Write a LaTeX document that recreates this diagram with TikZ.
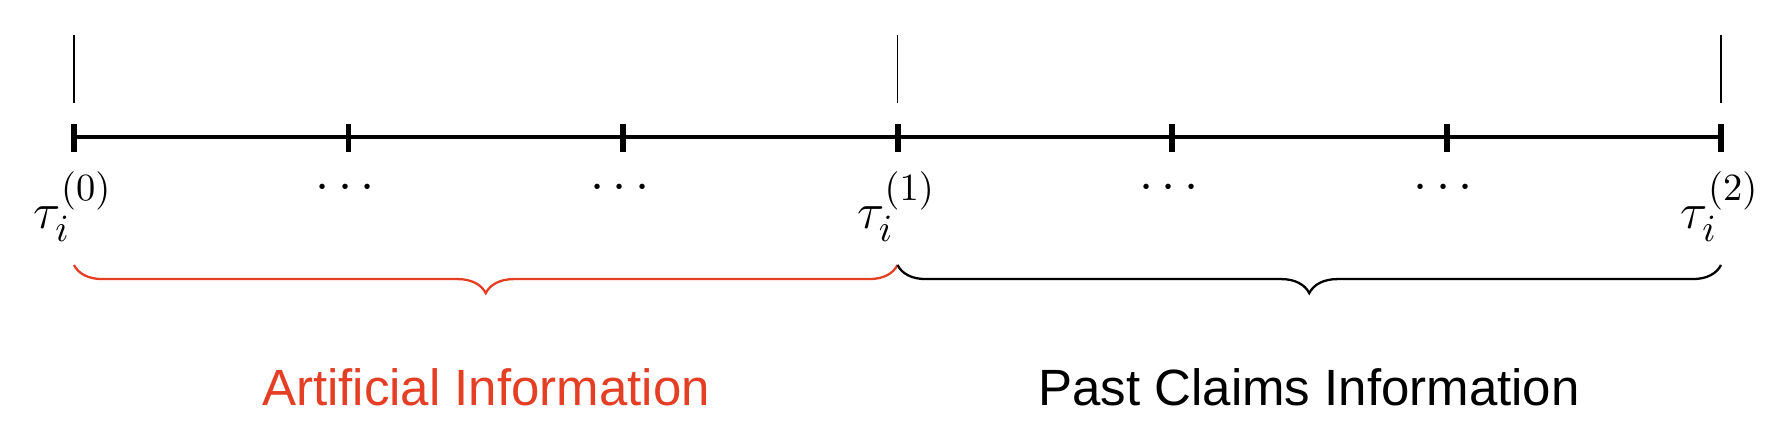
\documentclass[tikz,border=0pt]{standalone}
\usepackage{fontspec}
\newfontfamily\lsans{Liberation Sans}
\usetikzlibrary{decorations.pathreplacing}
\definecolor{artred}{RGB}{228,63,37}
\begin{document}
\begin{tikzpicture}[x=0.01cm,y=-0.01cm,
  axisline/.style={line width=1.1pt},
  tickmark/.style={line width=1.7pt},
  marker/.style={line width=0.45pt},
  bracestyle/.style={line width=0.65pt, decorate, decoration={brace, mirror, amplitude=8pt}},
  dotlbl/.style={anchor=base, inner sep=0pt, font=\fontsize{14.4}{17}\selectfont},
  lbl/.style={anchor=base, inner sep=0pt, font=\fontsize{15.5}{18}\selectfont},
  infotext/.style={anchor=base, inner sep=0pt, font=\lsans\fontsize{14.5}{17}\selectfont}]
\path[use as bounding box] (0,0) rectangle (1791,433);
% axis coordinates
\foreach \k in {0,...,6} {
  \coordinate (t\k) at ({74+\k*274.5},137);
  \coordinate (tt\k) at ({74+\k*274.5},124);
  \coordinate (tb\k) at ({74+\k*274.5},152);
}
\draw[axisline] (t0) -- (t6);
\foreach \k in {0,...,6} { \draw[tickmark] (tt\k) -- (tb\k); }
% vertical markers
\foreach \k in {0,3,6} {
  \coordinate (vt\k) at ({74+\k*274.5},35);
  \coordinate (vb\k) at ({74+\k*274.5},103);
  \draw[marker] (vt\k) -- (vb\k);
}
% dots
\foreach \k in {1,2,4,5} {
  \node[dotlbl] (d\k) at ({71+\k*274.5},199) {$\cdots$};
}
% tau labels
\node[lbl] (l0) at (73,228) {$\tau_i^{(0)}$};
\node[lbl] (l1) at (896.5,228) {$\tau_i^{(1)}$};
\node[lbl] (l2) at (1720,228) {$\tau_i^{(2)}$};
% braces
\coordinate (b0) at (74,265);
\coordinate (b1) at (897.5,265);
\coordinate (b2) at (1721,265);
\draw[bracestyle, artred] (b0) -- (b1);
\draw[bracestyle, black] (b1) -- (b2);
% texts
\node[infotext, text=artred] (art) at (486,405) {Artificial Information};
\node[infotext] (past) at (1309,405) {Past Claims Information};
\end{tikzpicture}
\end{document}
